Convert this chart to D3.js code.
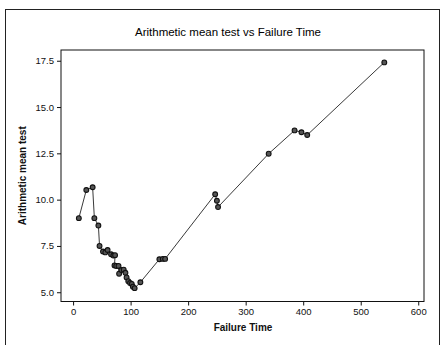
<!DOCTYPE html>
<html>
<head>
<meta charset="utf-8">
<script src="https://cdn.jsdelivr.net/npm/d3@7"></script>
<style>
  html, body { margin: 0; padding: 0; background: #fff; }
  svg { display: block; font-family: 'Liberation Sans', Arial, sans-serif; }
</style>
</head>
<body>
<div id="chart"></div>
<script>
// values
const failureTime = [10, 23, 34, 37, 44, 46, 52, 56, 60, 66, 70, 73, 72, 75, 79, 80, 84, 88, 91, 93,
  96, 99, 102, 104, 107, 117, 150, 156, 160, 247, 250, 252, 340, 385, 397, 407, 541];
const meanTest = [9.0, 10.52, 10.67, 9.0, 8.6, 7.5, 7.2, 7.15, 7.28, 7.05, 6.98, 7.0, 6.45, 6.42, 6.42, 6.0, 6.2, 6.22, 6.05, 5.8,
  5.6, 5.5, 5.45, 5.3, 5.22, 5.54, 6.78, 6.8, 6.8, 10.29, 9.94, 9.6, 12.48, 13.74, 13.64, 13.49, 17.41];
const xTicks = [0, 100, 200, 300, 400, 500, 600];
const yTicks = [5.0, 7.5, 10.0, 12.5, 15.0, 17.5];

const title = 'Arithmetic mean test vs Failure Time';
const xLabel = 'Failure Time';
const yLabel = 'Arithmetic mean test';

const width = 442;
const height = 345;
const plot = { left: 61, right: 424, top: 50, bottom: 301.5 };

const svg = d3.select('#chart')
  .append('svg')
  .attr('width', width)
  .attr('height', height);

// outer figure border
svg.append('rect')
  .attr('x', 5.5).attr('y', 9.5)
  .attr('width', 434).attr('height', 340)
  .attr('fill', 'none')
  .attr('stroke', '#222')
  .attr('stroke-width', 1);

const x = d3.scaleLinear().domain([-21, 610]).range([plot.left, plot.right]);
const y = d3.scaleLinear().domain([4.5, 18.08]).range([plot.bottom, plot.top]);

// plot frame
svg.append('rect')
  .attr('x', plot.left).attr('y', plot.top)
  .attr('width', plot.right - plot.left)
  .attr('height', plot.bottom - plot.top)
  .attr('fill', 'none')
  .attr('stroke', '#111')
  .attr('stroke-width', 1);

const xAxis = svg.append('g')
  .attr('transform', `translate(0,${plot.bottom})`)
  .call(d3.axisBottom(x).tickValues(xTicks).tickSize(4).tickPadding(3).tickFormat(d3.format('d')));
const yAxis = svg.append('g')
  .attr('transform', `translate(${plot.left},0)`)
  .call(d3.axisLeft(y).tickValues(yTicks).tickSize(4).tickPadding(3).tickFormat(d3.format('.1f')));

[xAxis, yAxis].forEach((g) => {
  g.select('.domain').remove();
  g.selectAll('line').attr('stroke', '#111');
  g.selectAll('text')
    .attr('fill', '#111')
    .style('font-size', '9.5px')
    .style('font-family', "'Liberation Sans', Arial, sans-serif");
});

svg.append('text')
  .attr('x', 228).attr('y', 36)
  .attr('text-anchor', 'middle')
  .style('font-size', '11.5px')
  .attr('fill', '#000')
  .text(title);

svg.append('text')
  .attr('x', 243).attr('y', 331)
  .attr('text-anchor', 'middle')
  .style('font-size', '10px')
  .style('font-weight', 'bold')
  .attr('fill', '#111')
  .text(xLabel);

svg.append('text')
  .attr('transform', `translate(26,${(plot.top + plot.bottom) / 2}) rotate(-90)`)
  .attr('text-anchor', 'middle')
  .style('font-size', '10px')
  .style('font-weight', 'bold')
  .attr('fill', '#111')
  .text(yLabel);

const pts = failureTime.map((t, i) => ({ t, v: meanTest[i] }));

const line = d3.line().x((d) => x(d.t)).y((d) => y(d.v));

svg.append('path')
  .datum(pts)
  .attr('d', line)
  .attr('fill', 'none')
  .attr('stroke', '#222')
  .attr('stroke-width', 0.9);

svg.append('g')
  .selectAll('circle')
  .data(pts)
  .join('circle')
  .attr('cx', (d) => x(d.t))
  .attr('cy', (d) => y(d.v))
  .attr('r', 2.4)
  .attr('fill', '#555')
  .attr('stroke', '#111')
  .attr('stroke-width', 1.1);
</script>
</body>
</html>
